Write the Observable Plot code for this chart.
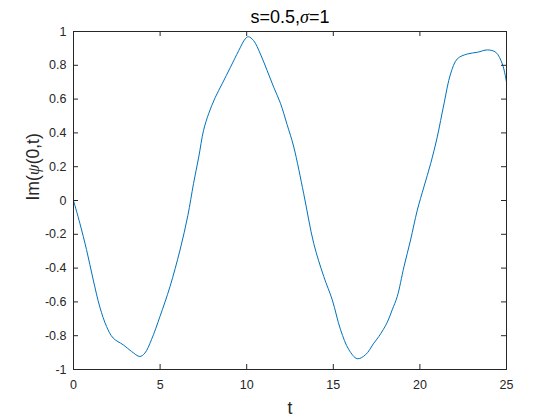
<!DOCTYPE html>
<html><head><meta charset="utf-8">
<script src="https://cdn.jsdelivr.net/npm/d3@7"></script>
<script src="https://cdn.jsdelivr.net/npm/@observablehq/plot@0.6"></script>
<style>body{margin:0;background:#fff}</style>
</head><body><div id="chart"></div>
<script>
const title = "s=0.5,σ=1";
const xLabel = "t";
const yLabel = "Im(ψ(0,t)";
const xTicks = [0, 5, 10, 15, 20, 25];
const yTicks = [-1, -0.8, -0.6, -0.4, -0.2, 0, 0.2, 0.4, 0.6, 0.8, 1];
const tValues = [0, 0.37, 0.75, 1.14, 1.52, 1.91, 2.29, 2.87, 3.35, 3.83, 4.12, 4.5, 4.99, 5.57, 6.15, 6.6, 6.93, 7.23, 7.51, 7.8, 8.19, 8.58, 9.06, 9.54, 9.92, 10.1, 10.4, 10.79, 11.18, 11.56, 11.95, 12.33, 12.72, 13.29, 13.87, 14.45, 14.94, 15.42, 15.9, 16.38, 16.86, 17.34, 17.63, 18.12, 18.4, 18.69, 19.08, 19.46, 19.85, 20.23, 20.62, 21.0, 21.39, 21.77, 22.16, 22.74, 23.32, 23.9, 24.38, 24.76, 25.0];
const imValues = [0, -0.136, -0.29, -0.47, -0.63, -0.746, -0.814, -0.854, -0.893, -0.923, -0.903, -0.824, -0.687, -0.51, -0.293, -0.09, 0.1, 0.257, 0.415, 0.513, 0.611, 0.69, 0.788, 0.887, 0.957, 0.969, 0.946, 0.867, 0.769, 0.67, 0.575, 0.45, 0.316, 0.041, -0.254, -0.45, -0.588, -0.765, -0.883, -0.936, -0.913, -0.844, -0.805, -0.72, -0.647, -0.569, -0.392, -0.234, -0.057, 0.08, 0.218, 0.375, 0.572, 0.749, 0.838, 0.867, 0.877, 0.891, 0.877, 0.808, 0.70];

const W = 560, H = 420, mL = 73, mR = 54, mT = 31, mB = 51;
const fw = W - mL - mR, fh = H - mT - mB;
const ink = "#262626";
const data = tValues.map((t, i) => ({t, v: imValues[i]}));

const chart = Plot.plot({
  width: W, height: H,
  marginLeft: mL, marginRight: mR, marginTop: mT, marginBottom: mB,
  style: {fontFamily: "'Liberation Sans', Arial, sans-serif", fontSize: "12.5px", color: ink, background: "#fff"},
  x: {domain: [0, 25]},
  y: {domain: [-1, 1]},
  marks: [
    Plot.line(data, {x: "t", y: "v", stroke: "#0072BD", strokeWidth: 1, curve: "catmull-rom"}),
    Plot.frame({stroke: ink}),
    Plot.tickX(xTicks, {x: d => d, insetTop: fh - 5, stroke: ink}),
    Plot.tickX(xTicks, {x: d => d, insetBottom: fh - 5, stroke: ink}),
    Plot.tickY(yTicks, {y: d => d, insetRight: fw - 5, stroke: ink}),
    Plot.tickY(yTicks, {y: d => d, insetLeft: fw - 5, stroke: ink}),
    Plot.axisX(xTicks, {tickSize: 0, tickPadding: 11, label: null, tickFormat: d => String(d), fill: ink}),
    Plot.axisY(yTicks, {tickSize: 0, tickPadding: 7, label: null, tickFormat: d => String(d), fill: ink}),
    Plot.text([xLabel], {frameAnchor: "bottom", lineAnchor: "middle", dy: 39, fontSize: 17.5, fill: ink}),
    Plot.text([yLabel], {frameAnchor: "left", lineAnchor: "middle", dx: -40, rotate: -90, fontSize: 17.5, fill: ink}),
    Plot.text([title], {frameAnchor: "top", lineAnchor: "middle", dy: -14, fontSize: 18, fill: "#000"})
  ]
});

function italicize(svg, full, ch) {
  d3.select(svg).selectAll("text").filter(function () { return this.textContent === full; })
    .each(function () {
      const el = d3.select(this);
      const parts = full.split(ch);
      el.text(null);
      el.append("tspan").text(parts[0]);
      el.append("tspan").attr("font-style", "italic").attr("font-family", "'Liberation Serif', serif").text(ch);
      el.append("tspan").text(parts[1]);
    });
}
italicize(chart, title, "σ");
italicize(chart, yLabel, "ψ");
document.getElementById("chart").appendChild(chart);
</script>
</body></html>
